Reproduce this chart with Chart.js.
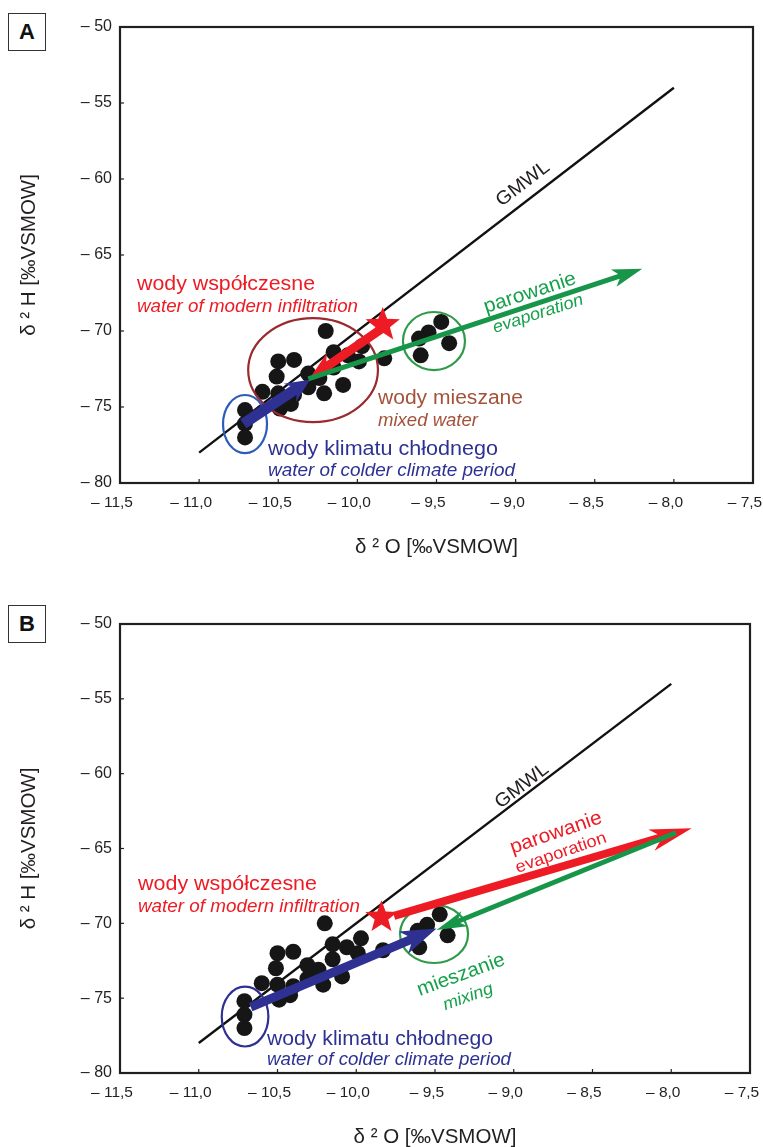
<!DOCTYPE html>
<html>
<head>
<meta charset="utf-8">
<script src="https://cdn.jsdelivr.net/npm/chart.js@4.4.1/dist/chart.umd.min.js"></script>
<style>
  html, body { margin: 0; padding: 0; background: #fff; width: 763px; height: 1147px; overflow: hidden; }
  .wrap { position: absolute; left: 0; }
  .panel { position: absolute; left: 8px; width: 36px; height: 36px; border: 1.8px solid #333;
           font: bold 22px "Liberation Sans", Arial, sans-serif; color: #111;
           display: flex; align-items: center; justify-content: center; background: #fff; }
</style>
</head>
<body>
<div class="panel" style="top:13px">A</div>
<div class="panel" style="top:605px">B</div>
<div class="wrap" style="top:0px"><canvas id="cA" width="763" height="573"></canvas></div>
<div class="wrap" style="top:597px"><canvas id="cB" width="763" height="566"></canvas></div>
<script>
// ---------------- DATA ----------------
const gmwlX = [-11.0, -8.0];
const gmwlY = [-78, -54];

const sampleX = [-10.20, -10.50, -10.40, -10.51, -10.60, -10.50, -10.49, -10.40, -10.42, -10.31,
                 -10.31, -10.24, -10.21, -10.15, -10.06, -10.15, -10.09, -9.99, -9.97, -9.83,
                 -9.47, -9.55, -9.61, -9.42, -9.60, -10.71, -10.71, -10.71];
const sampleY = [-70.0, -72.0, -71.9, -73.0, -74.0, -74.1, -75.1, -74.2, -74.8, -72.8,
                 -73.7, -73.1, -74.1, -71.4, -71.6, -72.4, -73.55, -72.0, -71.0, -71.8,
                 -69.4, -70.1, -70.5, -70.8, -71.6, -75.2, -76.1, -77.0];

const starXY = [-9.84, -69.6];        // modern infiltration end-member

// arrows: [x1, y1, x2, y2] in data units
const arrowBlueA  = [-10.72, -76.1, -10.30, -73.2];
const arrowRedA   = [-9.84, -69.8, -10.30, -73.1];
const arrowGreenA = [-10.31, -73.15, -8.20, -65.9];
const arrowBlueB  = [-10.67, -75.6, -9.49, -70.35];
const arrowRedB   = [-9.76, -69.5, -7.87, -63.65];
const arrowGreenB = [-7.97, -63.95, -9.49, -70.45];

// ellipses: [cx, cy, rx, ry] in data units
const ellMixedA = [-10.28, -72.57, 0.41, 3.42];
const ellColdA  = [-10.71, -76.12, 0.139, 1.91];
const ellEvapA  = [-9.516, -70.66, 0.196, 1.91];
const ellColdB  = [-10.706, -76.23, 0.148, 2.0];
const ellMixB   = [-9.506, -70.71, 0.216, 1.94];

const xTickValues = [-11.5, -11.0, -10.5, -10.0, -9.5, -9.0, -8.5, -8.0, -7.5];
const yTickValues = [-80, -75, -70, -65, -60, -55, -50];

// ---------------- STYLE ----------------
const RED = '#ed1c24', GREEN = '#15a04a', BLUE = '#2e3192', BROWN = '#a4513a';
const FONT = '"Liberation Sans", Arial, Helvetica, sans-serif';

function drawArrow(ctx, p1, p2, shaft, hl, hw, color) {
  const [x1, y1] = p1, [x2, y2] = p2;
  const dx = x2 - x1, dy = y2 - y1, L = Math.hypot(dx, dy);
  const ux = dx / L, uy = dy / L, nx = -uy, ny = ux;
  const bx = x2 - ux * hl, by = y2 - uy * hl;
  const jx = x2 - ux * hl * 0.82, jy = y2 - uy * hl * 0.82;
  ctx.beginPath();
  ctx.moveTo(x1 + nx * shaft / 2, y1 + ny * shaft / 2);
  ctx.lineTo(jx + nx * shaft / 2, jy + ny * shaft / 2);
  ctx.lineTo(bx + nx * hw / 2, by + ny * hw / 2);
  ctx.lineTo(x2, y2);
  ctx.lineTo(bx - nx * hw / 2, by - ny * hw / 2);
  ctx.lineTo(jx - nx * shaft / 2, jy - ny * shaft / 2);
  ctx.lineTo(x1 - nx * shaft / 2, y1 - ny * shaft / 2);
  ctx.closePath();
  ctx.fillStyle = color;
  ctx.fill();
}

function drawStar(ctx, cx, cy, R, r, color) {
  ctx.beginPath();
  for (let i = 0; i < 10; i++) {
    const rad = i % 2 === 0 ? R : r;
    const a = -Math.PI / 2 + i * Math.PI / 5;
    const x = cx + rad * Math.cos(a), y = cy + rad * Math.sin(a);
    i === 0 ? ctx.moveTo(x, y) : ctx.lineTo(x, y);
  }
  ctx.closePath();
  ctx.fillStyle = color;
  ctx.fill();
}

function drawLabel(ctx, L, offY) {
  ctx.save();
  ctx.font = (L.italic ? 'italic ' : '') + L.size + 'px ' + FONT;
  const w = ctx.measureText(L.t).width;
  const sx = L.w ? L.w / w : 1;
  ctx.translate(L.x, L.y - offY);
  if (L.rot) ctx.rotate(L.rot * Math.PI / 180);
  ctx.scale(sx, 1);
  ctx.fillStyle = L.c;
  ctx.textAlign = L.center ? 'center' : 'left';
  ctx.textBaseline = L.center ? 'middle' : 'alphabetic';
  ctx.fillText(L.t, 0, 0);
  ctx.restore();
}

const overlay = {
  id: 'overlay',
  afterDatasetsDraw(chart, args, o) {
    const { ctx, chartArea: ca, scales: { x, y } } = chart;
    const P = (a, b) => [x.getPixelForValue(a), y.getPixelForValue(b)];
    ctx.save();
    o.ellipses.forEach(([e, color]) => {
      const [cx, cy] = P(e[0], e[1]);
      const rx = Math.abs(x.getPixelForValue(e[0] + e[2]) - cx);
      const ry = Math.abs(y.getPixelForValue(e[1] + e[3]) - cy);
      ctx.beginPath();
      ctx.ellipse(cx, cy, rx, ry, 0, 0, Math.PI * 2);
      ctx.strokeStyle = color; ctx.lineWidth = 2.2; ctx.stroke();
    });
    o.arrows.forEach(([a, shaft, hl, hw, color]) => {
      drawArrow(ctx, P(a[0], a[1]), P(a[2], a[3]), shaft, hl, hw, color);
    });
    const [sx, sy] = P(starXY[0], starXY[1]);
    drawStar(ctx, sx, sy, o.starR, o.starR * 0.42, RED);
    ctx.strokeStyle = '#231f20';
    ctx.lineWidth = 2.2;
    ctx.strokeRect(ca.left, ca.top, ca.right - ca.left, ca.bottom - ca.top);
    ctx.lineWidth = 1.2;
    xTickValues.forEach(v => {
      const px = x.getPixelForValue(v);
      ctx.beginPath(); ctx.moveTo(px, ca.bottom); ctx.lineTo(px, ca.bottom - 4); ctx.stroke();
    });
    yTickValues.forEach(v => {
      const py = y.getPixelForValue(v);
      ctx.beginPath(); ctx.moveTo(ca.left, py); ctx.lineTo(ca.left + 4, py); ctx.stroke();
    });
    o.labels.forEach(L => drawLabel(ctx, L, o.offY));
    ctx.restore();
  }
};

function makeChart(id, rightPad, overlayOpts) {
  const pts = sampleX.map((v, i) => ({ x: v, y: sampleY[i] }));
  const line = gmwlX.map((v, i) => ({ x: v, y: gmwlY[i] }));
  return new Chart(document.getElementById(id), {
    type: 'scatter',
    data: {
      datasets: [
        { type: 'line', data: line, borderColor: '#111', borderWidth: 2.4, pointRadius: 0, fill: false, order: 2 },
        { data: pts, backgroundColor: '#161616', borderWidth: 0, pointRadius: 8, pointHoverRadius: 8, order: 1 }
      ]
    },
    options: {
      responsive: false,
      animation: false,
      events: [],
      layout: { padding: { top: 27, right: rightPad, left: 0, bottom: 0 } },
      plugins: { legend: { display: false }, tooltip: { enabled: false }, overlay: overlayOpts },
      scales: {
        x: {
          type: 'linear', min: -11.5, max: -7.5,
          afterBuildTicks: s => { s.ticks = xTickValues.map(v => ({ value: v })); },
          afterFit: s => { s.height = 90; s.paddingLeft = 0; s.paddingRight = 0; },
          grid: { display: false, drawTicks: false },
          border: { display: false },
          ticks: {
            autoSkip: false, maxRotation: 0, padding: 10, labelOffset: -8, color: '#231f20',
            font: { family: FONT, size: 15.5 },
            callback: v => '\u2013 ' + Math.abs(v).toFixed(1).replace('.', ',')
          },
          title: { display: true, text: 'δ ² O [‰VSMOW]', color: '#231f20',
                   font: { family: FONT, size: 20.5 }, padding: { top: 0, bottom: 13 } }
        },
        y: {
          type: 'linear', min: -80, max: -50,
          afterBuildTicks: s => { s.ticks = yTickValues.map(v => ({ value: v })); },
          afterFit: s => { s.width = 120; s.paddingTop = 0; s.paddingBottom = 0; },
          grid: { display: false, drawTicks: false },
          border: { display: false },
          ticks: {
            padding: 8, color: '#231f20', font: { family: FONT, size: 16 },
            callback: v => '\u2013 ' + Math.abs(v)
          },
          title: { display: true, text: 'δ ² H [‰VSMOW]', color: '#231f20',
                   font: { family: FONT, size: 20.5 }, padding: { top: 17, bottom: 0 } }
        }
      }
    },
    plugins: [overlay]
  });
}

makeChart('cA', 10, {
  offY: 0,
  starR: 18,
  ellipses: [[ellMixedA, '#9a2a2e'], [ellColdA, '#2a5cb8'], [ellEvapA, '#2f9a48']],
  arrows: [
    [arrowBlueA, 11, 24, 22, BLUE],
    [arrowRedA, 9, 28, 22, RED],
    [arrowGreenA, 5, 30, 18, '#17964a']
  ],
  labels: [
    { t: 'wody współczesne', x: 137, y: 290, size: 20, w: 178, c: RED },
    { t: 'water of modern infiltration', x: 137, y: 312, size: 18.5, italic: true, w: 221, c: RED },
    { t: 'wody mieszane', x: 378, y: 404, size: 20, w: 145, c: BROWN },
    { t: 'mixed water', x: 378, y: 426, size: 18, italic: true, w: 100, c: BROWN },
    { t: 'wody klimatu chłodnego', x: 268, y: 455, size: 20, w: 230, c: BLUE },
    { t: 'water of colder climate period', x: 268, y: 476, size: 18.5, italic: true, w: 247, c: BLUE },
    { t: 'GMWL', x: 523, y: 184, rot: -37.5, size: 19, w: 62, c: '#231f20', center: true },
    { t: 'parowanie', x: 530, y: 293, rot: -18, size: 20, w: 96, c: GREEN, center: true },
    { t: 'evaporation', x: 538, y: 314, rot: -18, size: 17, italic: true, w: 94, c: GREEN, center: true }
  ]
});

makeChart('cB', 13, {
  offY: 597,
  starR: 17,
  ellipses: [[ellColdB, BLUE], [ellMixB, '#2f9a48']],
  arrows: [
    [arrowBlueB, 9, 36, 24, BLUE],
    [arrowRedB, 8, 42, 22, RED],
    [arrowGreenB, 5, 30, 16, '#17964a']
  ],
  labels: [
    { t: 'wody współczesne', x: 138, y: 890, size: 20, w: 179, c: RED },
    { t: 'water of modern infiltration', x: 138, y: 912, size: 18.5, italic: true, w: 222, c: RED },
    { t: 'wody klimatu chłodnego', x: 267, y: 1045, size: 20, w: 226, c: BLUE },
    { t: 'water of colder climate period', x: 267, y: 1065, size: 18.5, italic: true, w: 244, c: BLUE },
    { t: 'GMWL', x: 522, y: 786, rot: -37.5, size: 19, w: 62, c: '#231f20', center: true },
    { t: 'parowanie', x: 556, y: 833, rot: -19, size: 20, w: 96, c: RED, center: true },
    { t: 'evaporation', x: 561, y: 853, rot: -19, size: 17, w: 95, c: RED, center: true },
    { t: 'mieszanie', x: 461, y: 975, rot: -20, size: 20, w: 92, c: GREEN, center: true },
    { t: 'mixing', x: 468, y: 997, rot: -20, size: 17, italic: true, w: 52, c: GREEN, center: true }
  ]
});
</script>
</body>
</html>
